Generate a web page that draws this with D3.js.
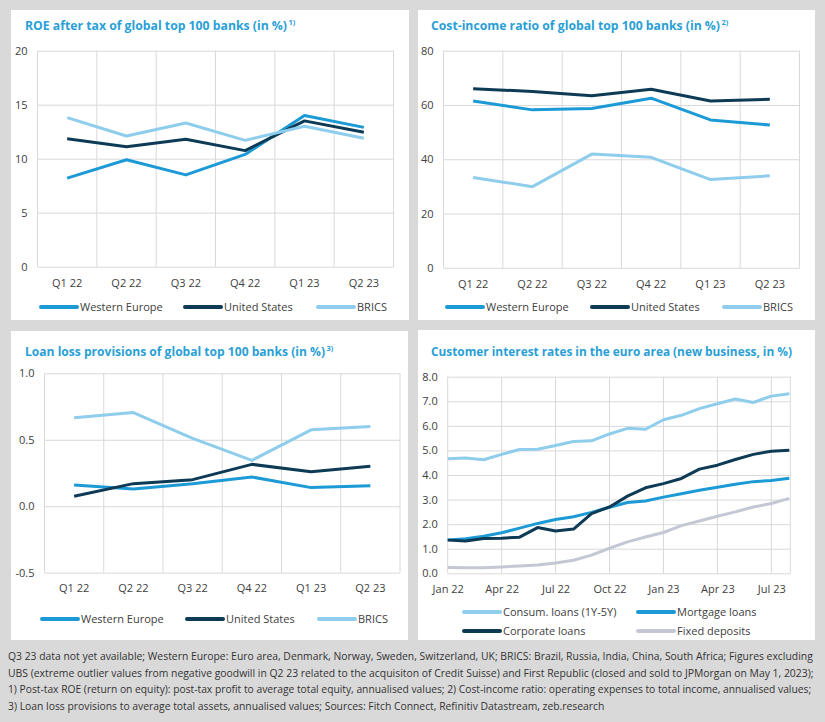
<!DOCTYPE html>
<html>
<head>
<meta charset="utf-8">
<script src="https://cdn.jsdelivr.net/npm/d3@7"></script>
<style>
  html, body { margin: 0; padding: 0; background: #d9d9d9; }
  svg { display: block; }
  text { font-family: "Open Sans", "Noto Sans", sans-serif; }
</style>
</head>
<body>
<svg id="chart" width="825" height="722"></svg>
<script>
// ---------------- DATA ----------------
const quarters = ["Q1 22", "Q2 22", "Q3 22", "Q4 22", "Q1 23", "Q2 23"];
const regionNames = ["Western Europe", "United States", "BRICS"];

const roeWesternEurope = [8.2, 9.9, 8.5, 10.4, 14.0, 12.9];
const roeUnitedStates  = [11.85, 11.1, 11.8, 10.75, 13.5, 12.45];
const roeBRICS         = [13.8, 12.1, 13.3, 11.7, 13.0, 11.9];

const cirWesternEurope = [61.5, 58.2, 58.7, 62.5, 54.5, 52.6];
const cirUnitedStates  = [66.0, 65.0, 63.4, 65.8, 61.5, 62.1];
const cirBRICS         = [33.3, 29.9, 41.9, 40.7, 32.5, 33.9];

const llpWesternEurope = [0.16, 0.13, 0.17, 0.22, 0.14, 0.155];
const llpUnitedStates  = [0.075, 0.17, 0.2, 0.315, 0.26, 0.3];
const llpBRICS         = [0.665, 0.705, 0.51, 0.345, 0.575, 0.6];

const months = ["Jan 22","Feb 22","Mar 22","Apr 22","May 22","Jun 22","Jul 22","Aug 22","Sep 22","Oct 22","Nov 22","Dec 22",
                "Jan 23","Feb 23","Mar 23","Apr 23","May 23","Jun 23","Jul 23","Aug 23"];
const monthTickLabels = ["Jan 22", "Apr 22", "Jul 22", "Oct 22", "Jan 23", "Apr 23", "Jul 23"];
const rateNames = ["Consum. loans (1Y-5Y)", "Mortgage loans", "Corporate loans", "Fixed deposits"];
const consumerLoans  = [4.66,4.69,4.62,4.84,5.04,5.05,5.20,5.36,5.39,5.67,5.90,5.86,6.25,6.43,6.70,6.90,7.09,6.95,7.21,7.31];
const mortgageLoans  = [1.36,1.41,1.51,1.65,1.84,2.03,2.19,2.30,2.48,2.69,2.88,2.94,3.10,3.24,3.38,3.50,3.62,3.73,3.78,3.87];
const corporateLoans = [1.35,1.31,1.42,1.43,1.47,1.86,1.72,1.80,2.43,2.70,3.14,3.48,3.65,3.86,4.24,4.40,4.63,4.84,4.97,5.01];
const fixedDeposits  = [0.24,0.23,0.23,0.26,0.30,0.34,0.42,0.53,0.74,1.02,1.28,1.48,1.66,1.94,2.13,2.32,2.50,2.70,2.84,3.05];

const footnoteLines = [
  "Q3 23 data not yet available; Western Europe: Euro area, Denmark, Norway, Sweden, Switzerland, UK; BRICS: Brazil, Russia, India, China, South Africa; Figures excluding",
  "UBS (extreme outlier values from negative goodwill in Q2 23 related to the acquisiton of Credit Suisse) and First Republic (closed and sold to JPMorgan on May 1, 2023);",
  "1) Post-tax ROE (return on equity): post-tax profit to average total equity, annualised values; 2) Cost-income ratio: operating expenses to total income, annualised values;",
  "3) Loan loss provisions to average total assets, annualised values; Sources: Fitch Connect, Refinitiv Datastream, zeb.research"
];

// ---------------- STYLE ----------------
const C_MID = "#1c9ad6", C_DARK = "#0d3a55", C_LIGHT = "#8ecdec", C_GREY = "#c4c8d5";
const TITLE_COLOR = "#2a9fd6", TEXT = "#404040", GRID = "#d9d9d9";
const regionColors = [C_MID, C_DARK, C_LIGHT];

const svg = d3.select("#chart");

// panels background
const panels = [
  {x: 11, y: 10, w: 398, h: 310},
  {x: 418, y: 10, w: 397, h: 310},
  {x: 11, y: 331, w: 397, h: 309},
  {x: 418, y: 330, w: 397, h: 310}
];
svg.selectAll("rect.panel").data(panels).join("rect")
  .attr("class", "panel")
  .attr("x", d => d.x).attr("y", d => d.y).attr("width", d => d.w).attr("height", d => d.h)
  .attr("fill", "#ffffff");

function title(x, y, txt, sup, width) {
  svg.append("text").attr("x", x).attr("y", y)
    .attr("fill", TITLE_COLOR).attr("font-weight", 700).attr("font-size", 12)
    .attr("textLength", width).attr("lengthAdjust", "spacingAndGlyphs")
    .text(txt);
  if (sup) {
    svg.append("text").attr("x", x + width + 1.5).attr("y", y - 5)
      .attr("fill", TITLE_COLOR).attr("font-weight", 700).attr("font-size", 7.5)
      .text(sup);
  }
}

function yGrid(g, y, x0, x1, ticks, fmt) {
  const ax = d3.axisLeft(y).tickValues(ticks).tickSize(-(x1 - x0)).tickPadding(10).tickFormat(fmt);
  const gg = g.append("g").attr("transform", `translate(${x0},0)`).call(ax);
  gg.select(".domain").remove();
  gg.selectAll(".tick line").attr("stroke", GRID).attr("stroke-width", 1);
  gg.selectAll(".tick text").attr("fill", TEXT).attr("font-size", 11)
    .style("font-family", "'Open Sans', 'Noto Sans', sans-serif");
  return gg;
}

function legendItem(x, y, color, label) {
  svg.append("line").attr("x1", x).attr("x2", x + 36).attr("y1", y).attr("y2", y)
    .attr("stroke", color).attr("stroke-width", 4).attr("stroke-linecap", "round");
  svg.append("text").attr("x", x + 39).attr("y", y).attr("dy", "0.35em")
    .attr("fill", TEXT).attr("font-size", 11).text(label);
}

function quarterPanel(cfg) {
  const g = svg.append("g");
  const x = d3.scaleBand().domain(quarters).range([cfg.x0, cfg.x1]).padding(0);
  const y = d3.scaleLinear().domain(cfg.domain).range([cfg.yb, cfg.yt]);
  const bounds = quarters.map(q => x(q)).concat([cfg.x1]);
  g.selectAll("line.vg").data(bounds).join("line")
    .attr("x1", d => d).attr("x2", d => d).attr("y1", cfg.yt).attr("y2", cfg.yb)
    .attr("stroke", GRID).attr("stroke-width", 1);
  yGrid(g, y, cfg.x0, cfg.x1, cfg.ticks, cfg.fmt);
  const xa = d3.axisBottom(x).tickSize(0).tickPadding(0);
  const xg = g.append("g").attr("transform", `translate(0,${cfg.xLabelY})`).call(xa);
  xg.select(".domain").remove();
  xg.selectAll(".tick text").attr("fill", TEXT).attr("font-size", 11).attr("dy", "0.35em")
    .style("font-family", "'Open Sans', 'Noto Sans', sans-serif");
  const line = d3.line().x((d, i) => x(quarters[i]) + x.bandwidth() / 2).y(d => y(d));
  cfg.series.forEach((s, i) => {
    g.append("path").datum(s).attr("d", line).attr("fill", "none")
      .attr("stroke", regionColors[i]).attr("stroke-width", 3).attr("stroke-linejoin", "round");
  });
  cfg.legendX.forEach((lx, i) => legendItem(lx, cfg.legendY, regionColors[i], regionNames[i]));
}

// Panel 1: ROE
title(25, 30, "ROE after tax of global top 100 banks (in %)", "1)", 262);
quarterPanel({
  x0: 37.5, x1: 393.5, yt: 50.7, yb: 266.7, domain: [0, 20], ticks: [0, 5, 10, 15, 20],
  fmt: d3.format("d"), xLabelY: 283,
  series: [roeWesternEurope, roeUnitedStates, roeBRICS],
  legendX: [41, 185, 318], legendY: 307
});

// Panel 2: CIR
title(431, 30, "Cost-income ratio of global top 100 banks (in %)", "2)", 289);
quarterPanel({
  x0: 443.5, x1: 799.5, yt: 50.7, yb: 267.8, domain: [0, 80], ticks: [0, 20, 40, 60, 80],
  fmt: d3.format("d"), xLabelY: 284,
  series: [cirWesternEurope, cirUnitedStates, cirBRICS],
  legendX: [447, 592, 724], legendY: 307
});

// Panel 3: LLP
title(25, 356, "Loan loss provisions of global top 100 banks (in %)", "3)", 300);
quarterPanel({
  x0: 44.5, x1: 400, yt: 373.3, yb: 572.7, domain: [-0.5, 1.0], ticks: [-0.5, 0, 0.5, 1.0],
  fmt: d => d.toFixed(1), xLabelY: 588.5,
  series: [llpWesternEurope, llpUnitedStates, llpBRICS],
  legendX: [42, 187, 319], legendY: 619
});

// Panel 4: interest rates
title(431, 356, "Customer interest rates in the euro area (new business, in %)", null, 361);
(function() {
  const g = svg.append("g");
  const x0 = 447.7, x1 = 790.3, yt = 376.7, yb = 573.3;
  const x = d3.scaleLinear().domain([0, months.length - 1]).range([x0, 789.3]);
  const y = d3.scaleLinear().domain([0, 8]).range([yb, yt]);
  const tickIdx = monthTickLabels.map(m => months.indexOf(m));
  const vlines = tickIdx.map(i => x(i)).concat([x1]);
  g.selectAll("line.vg").data(vlines).join("line")
    .attr("x1", d => d).attr("x2", d => d).attr("y1", yt).attr("y2", yb)
    .attr("stroke", GRID).attr("stroke-width", 1);
  yGrid(g, y, x0, x1, d3.range(0, 9), d => d.toFixed(1));
  const xa = d3.axisBottom(x).tickValues(tickIdx).tickFormat(i => months[i]).tickSize(0).tickPadding(0);
  const xg = g.append("g").attr("transform", `translate(0,${589.3})`).call(xa);
  xg.select(".domain").remove();
  xg.selectAll(".tick text").attr("fill", TEXT).attr("font-size", 11).attr("dy", "0.35em")
    .style("font-family", "'Open Sans', 'Noto Sans', sans-serif");
  const line = d3.line().x((d, i) => x(i)).y(d => y(d));
  const series = [
    {v: fixedDeposits, c: C_GREY},
    {v: consumerLoans, c: C_LIGHT},
    {v: mortgageLoans, c: C_MID},
    {v: corporateLoans, c: C_DARK}
  ];
  series.forEach(s => {
    g.append("path").datum(s.v).attr("d", line).attr("fill", "none")
      .attr("stroke", s.c).attr("stroke-width", 3).attr("stroke-linejoin", "round");
  });
  legendItem(464, 612, C_LIGHT, rateNames[0]);
  legendItem(638, 612, C_MID, rateNames[1]);
  legendItem(464, 631, C_DARK, rateNames[2]);
  legendItem(638, 631, C_GREY, rateNames[3]);
})();

// Footnote: each line horizontally scaled to its width in the reference
const fnWidths = [805, 807, 805, 597];
footnoteLines.forEach((txt, i) => {
  const g = svg.append("g");
  const t = g.append("text").attr("x", 0).attr("y", 0)
    .attr("fill", "#333333").attr("font-size", 11).text(txt);
  const natural = t.node().getComputedTextLength();
  const sx = fnWidths[i] / natural;
  g.attr("transform", `translate(8,${660 + i * 16.5}) scale(${sx},1)`);
});
</script>
</body>
</html>
